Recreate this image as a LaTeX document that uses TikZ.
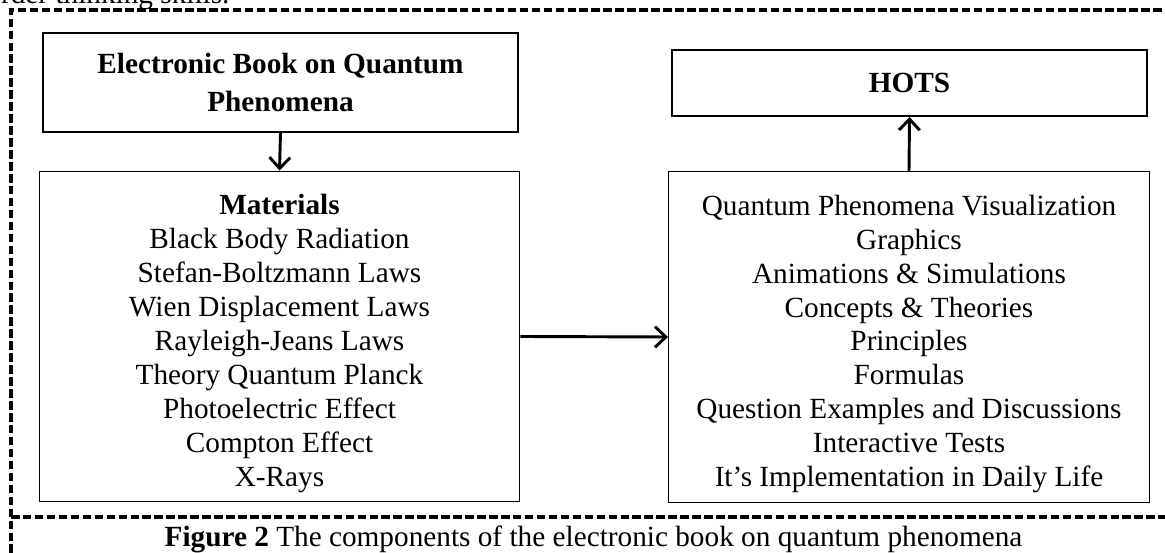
\documentclass[tikz,border=0pt]{standalone}
\usepackage{fontspec}
\setmainfont{Liberation Serif}
\usetikzlibrary{arrows.meta}

\begin{document}
\begin{tikzpicture}[x=0.41pt,y=-0.41pt]
\tikzstyle{every node}=[inner sep=0pt,font=\fontsize{12}{13.9}\selectfont]
\tikzstyle{topbox}=[draw,line width=0.8pt,minimum width=194.8pt,align=center,font=\fontsize{12}{15.6}\selectfont\bfseries]
\tikzstyle{listbox}=[draw,line width=0.6pt,minimum width=197pt,minimum height=135.5pt,align=center]
\tikzstyle{link}=[line width=1.2pt,-{Straight Barb[length=4.5pt,width=8.5pt]}]
\tikzstyle{frame}=[line width=1.4pt,dash pattern=on 3.5pt off 1.4pt]

\useasboundingbox (0,0) rectangle (1165,553);

% text of the page, cut by the crop
\node[anchor=base east] (prev) at (230,4) {order thinking skills.};

\draw[frame] (11,553) -- (11,10) -- (1165,10);
\draw[frame] (11,517) -- (1165,517);

\node[topbox,minimum height=40.6pt] (book) at (280.5,82.5) {Electronic Book on Quantum\\Phenomena};
\node[topbox,minimum height=27.1pt] (hots) at (909.5,83) {HOTS};

\node[listbox] (mat) at (279.5,336.5) {\rule{0pt}{14pt}\textbf{Materials}\\Black Body Radiation\\Stefan-Boltzmann Laws\\Wien Displacement Laws\\Rayleigh-Jeans Laws\\Theory Quantum Planck\\Photoelectric Effect\\Compton Effect\\X-Rays};
\node[listbox] (feat) at (909,337) {\rule{0pt}{14pt}Quantum Phenomena Visualization\\Graphics\\Animations \& Simulations\\Concepts \& Theories\\Principles\\Formulas\\Question Examples and Discussions\\Interactive Tests\\It's Implementation in Daily Life};

\draw[link] (book.south) -- (mat.north);
\draw[link] (mat.east) -- (feat.west);
\draw[link] (feat.north) -- (hots.south);

\node[anchor=base] (cap) at (593.5,547) {\textbf{Figure 2} The components of the electronic book on quantum phenomena};

\end{tikzpicture}
\end{document}
